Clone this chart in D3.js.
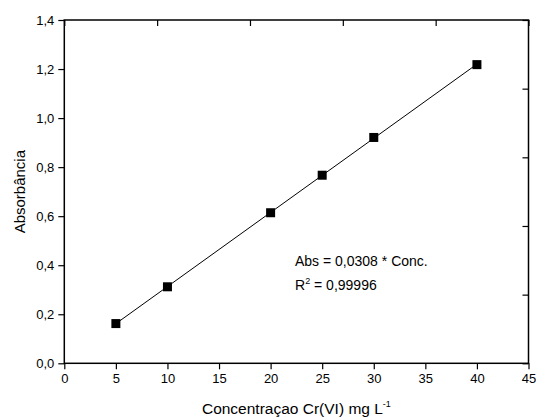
<!DOCTYPE html>
<html><head><meta charset="utf-8">
<script src="https://cdn.jsdelivr.net/npm/d3@7/dist/d3.min.js"></script>
<style>body{margin:0;background:#fff}svg{display:block}text{font-family:"Liberation Sans",Arial,sans-serif;fill:#000}</style>
</head><body>
<script>
const concentrations = [5, 10, 20, 25, 30, 40];
const absorbances = [0.162, 0.312, 0.614, 0.767, 0.921, 1.218];
const xTickValues = [0, 5, 10, 15, 20, 25, 30, 35, 40, 45];
const yTickValues = [0, 0.2, 0.4, 0.6, 0.8, 1.0, 1.2, 1.4];
const equationText = "Abs = 0,0308 * Conc.";
const r2Value = "0,99996";

const W = 537, H = 419;
const m = {l: 64.3, r: 8.5, t: 20, b: 55.7};
const svg = d3.select("body").append("svg").attr("width", W).attr("height", H);
const x = d3.scaleLinear().domain([0, 45]).range([m.l, W - m.r]);
const y = d3.scaleLinear().domain([0, 1.4]).range([H - m.b, m.t]);
const fmt = d => d3.format(".1f")(d).replace(".", ",");

// bottom axis
const gx = svg.append("g").attr("transform", `translate(0,${H - m.b})`);
gx.call(d3.axisBottom(x).tickValues(d3.range(0, 45.01, 2.5)).tickSize(3).tickFormat(""));
gx.call(d3.axisBottom(x).tickValues(xTickValues).tickSize(6).tickPadding(4).tickFormat(d3.format("d")));
// left axis
const gy = svg.append("g").attr("transform", `translate(${m.l},0)`);
gy.call(d3.axisLeft(y).tickValues(d3.range(0, 1.401, 0.1)).tickSize(3).tickFormat(""));
gy.call(d3.axisLeft(y).tickValues(yTickValues).tickSize(6).tickPadding(4).tickFormat(fmt));
// top axis (inward)
const gt = svg.append("g").attr("transform", `translate(0,${m.t})`);
gt.call(d3.axisBottom(x).tickValues(d3.range(0, 45.01, 4.5)).tickSize(3).tickFormat(""));
gt.call(d3.axisBottom(x).tickValues(d3.range(0, 45.01, 9)).tickSize(6).tickFormat(""));
// right axis (inward)
const gr = svg.append("g").attr("transform", `translate(${W - m.r},0)`);
gr.call(d3.axisLeft(y).tickValues(d3.range(0, 1.401, 0.14)).tickSize(3).tickFormat(""));
gr.call(d3.axisLeft(y).tickValues(d3.range(0, 1.401, 0.28)).tickSize(6).tickFormat(""));

svg.selectAll(".domain").remove();
svg.selectAll(".tick line").attr("stroke", "#000").attr("stroke-width", 1.2);
svg.selectAll(".tick text").style("font-size", "13px").attr("fill", "#000");

// frame
svg.append("rect").attr("x", x(0)).attr("y", y(1.4)).attr("width", x(45) - x(0)).attr("height", y(0) - y(1.4))
  .attr("fill", "none").attr("stroke", "#000").attr("stroke-width", 1.5);

// linear fit from data
const mx = d3.mean(concentrations), my = d3.mean(absorbances);
const slope = d3.sum(concentrations, (c, i) => (c - mx) * (absorbances[i] - my)) / d3.sum(concentrations, c => (c - mx) ** 2);
const icpt = my - slope * mx;
const x0 = d3.min(concentrations), x1 = d3.max(concentrations);
svg.append("line").attr("x1", x(x0)).attr("y1", y(icpt + slope * x0)).attr("x2", x(x1)).attr("y2", y(icpt + slope * x1))
  .attr("stroke", "#000").attr("stroke-width", 1);

// markers
svg.selectAll(".pt").data(concentrations).join("rect").attr("class", "pt")
  .attr("x", d => x(d) - 4.5).attr("y", (d, i) => y(absorbances[i]) - 4.5)
  .attr("width", 9).attr("height", 9).attr("fill", "#000");

// annotation
svg.append("text").attr("x", 295).attr("y", 266).style("font-size", "14px").text(equationText);
const r2 = svg.append("text").attr("x", 295).attr("y", 290).style("font-size", "14px");
r2.append("tspan").text("R");
r2.append("tspan").attr("dy", -6).style("font-size", "9px").text("2");
r2.append("tspan").attr("dy", 6).text(" = " + r2Value);

// axis titles
svg.append("text").attr("transform", `translate(25,${(y(0) + y(1.4)) / 2}) rotate(-90)`)
  .attr("text-anchor", "middle").style("font-size", "15px").text("Absorbância");
const xt = svg.append("text").attr("x", (x(0) + x(45)) / 2).attr("y", 414).attr("text-anchor", "middle").style("font-size", "15.5px");
xt.append("tspan").text("Concentraçao Cr(VI) mg L");
xt.append("tspan").attr("dy", -7).style("font-size", "9px").text("-1");
</script>
</body></html>
